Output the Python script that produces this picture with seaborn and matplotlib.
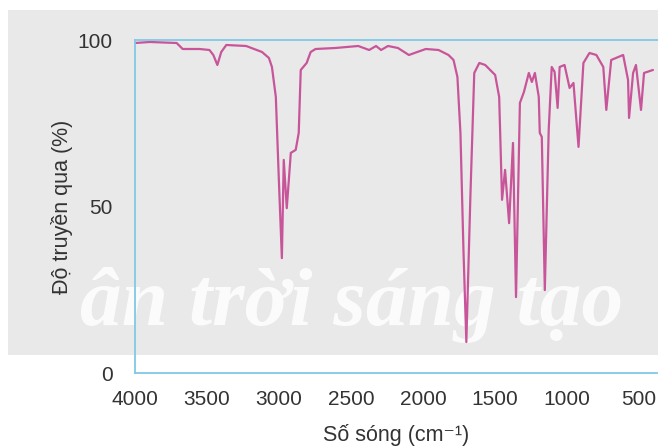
import matplotlib
matplotlib.use("Agg")
import matplotlib.pyplot as plt
from matplotlib.patches import Rectangle
import seaborn as sns
import pandas as pd

# Wavenumber (cm-1) and transmittance (%)
wavenumber = [4000, 3897, 3711, 3669, 3552, 3483, 3456, 3428, 3401, 3366, 3228, 3118,
              3070, 3049, 3022, 3001, 2980, 2967, 2946, 2918, 2884, 2863, 2849, 2808,
              2780, 2746, 2608, 2450, 2374, 2326, 2291, 2243, 2174, 2098, 1981, 1892,
              1823, 1788, 1761, 1740, 1719, 1699, 1671, 1644, 1609, 1568, 1499, 1471,
              1451, 1430, 1402, 1375, 1354, 1327, 1299, 1265, 1244, 1223, 1196, 1189,
              1175, 1154, 1127, 1106, 1086, 1065, 1051, 1017, 982, 955, 920, 886,
              844, 796, 748, 727, 693, 610, 576, 569, 541, 521, 486, 465, 403]
transmittance = [99.1, 99.4, 99.1, 97.3, 97.3, 97.0, 95.5, 92.5, 96.4, 98.5, 98.2, 96.4,
                 94.6, 91.9, 82.9, 58.0, 34.5, 64.0, 49.5, 66.1, 67.0, 72.1, 91.0, 93.1,
                 96.4, 97.3, 97.6, 98.2, 97.0, 98.2, 97.0, 98.2, 97.6, 95.5, 97.3, 97.0,
                 95.5, 94.0, 88.9, 72.1, 36.9, 9.3, 52.9, 90.1, 93.1, 92.5, 89.5, 82.9,
                 52.0, 61.0, 45.0, 69.1, 22.8, 81.1, 84.4, 90.1, 87.4, 90.1, 82.9, 72.1,
                 70.9, 24.9, 73.0, 91.9, 90.4, 79.6, 91.9, 92.5, 85.6, 87.1, 67.9, 93.1,
                 96.1, 95.5, 91.9, 79.0, 94.0, 95.5, 88.0, 76.6, 90.1, 92.5, 79.0, 90.1, 91.0]

x_major = [4000, 3500, 3000, 2500, 2000, 1500, 1000, 500]
y_major = [0, 50, 100]

df = pd.DataFrame({"wn": wavenumber, "T": transmittance})

sns.set_style("white")
plt.rcParams["font.family"] = ["Liberation Sans", "DejaVu Sans"]

fig = plt.figure(figsize=(6.58, 4.48), dpi=100)
fig.patch.set_facecolor("white")
# grey watermark band behind the chart
fig.patches.append(Rectangle((8 / 658, (448 - 355) / 448), 650 / 658, 345 / 448,
                             transform=fig.transFigure, facecolor="#e9e9e9",
                             edgecolor="none", zorder=-10))
fig.text(80 / 658, (448 - 325) / 448, "ân trời sáng tạo", color="white",
         fontsize=60, style="italic", fontweight="bold",
         family=["Liberation Serif", "DejaVu Serif"], alpha=0.85, zorder=-5,
         ha="left", va="baseline")

ax = fig.add_axes([135 / 658, (448 - 373) / 448, 1 - 135 / 658, 333 / 448])
ax.set_facecolor("none")

sns.lineplot(data=df, x="wn", y="T", ax=ax, color="#c8559a", linewidth=1.6,
             estimator=None, sort=True)

ax.set_xlim(4000, 368)
ax.set_ylim(0, 100)
ax.set_xticks(x_major)
ax.set_xticks(range(400, 4001, 100), minor=True)
ax.set_yticks(y_major)
ax.set_yticks(range(0, 101, 10), minor=True)

spine_col = "#80c8e6"
for s in ["left", "top", "bottom"]:
    ax.spines[s].set_color(spine_col)
    ax.spines[s].set_linewidth(1.3)
ax.spines["right"].set_visible(False)

ax.tick_params(axis="both", which="both", direction="out", color="#8fb2c8",
               labelcolor="#333333", labelsize=15)
ax.tick_params(axis="x", which="both", length=5, width=1, pad=7)
ax.tick_params(axis="y", which="both", length=7, width=1, pad=9)

ax.set_xlabel("Số sóng (cm⁻¹)", fontsize=15.5, color="#333333", labelpad=11)
ax.set_ylabel("Độ truyền qua (%)", fontsize=15.5, color="#333333", labelpad=3)

fig.savefig("out.png", dpi=100)
